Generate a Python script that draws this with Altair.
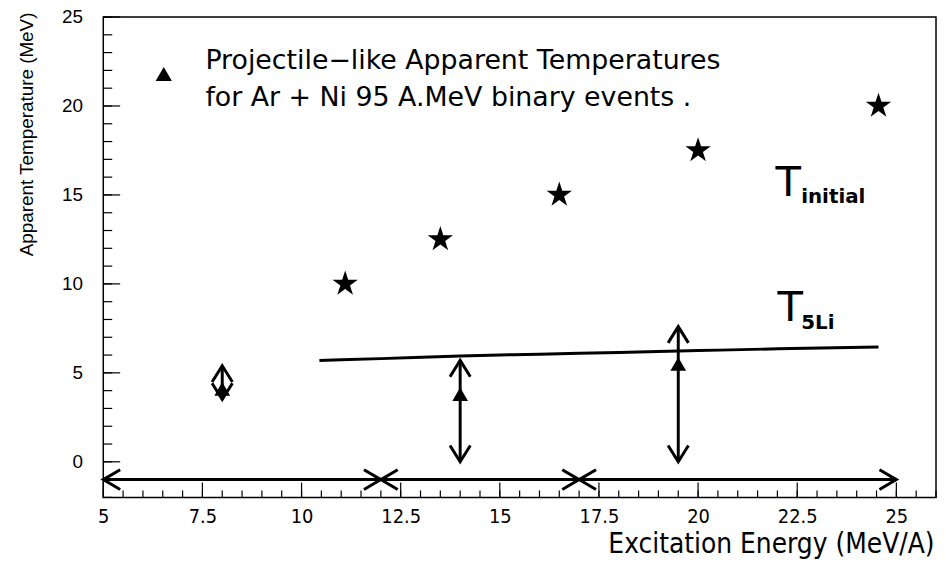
import altair as alt
import pandas as pd

# ---- data ----
star_x = [11.1, 13.5, 16.5, 20.0, 24.55]
star_y = [10.0, 12.5, 15.0, 17.5, 20.0]

tri_x = [8.0, 14.0, 19.5]
tri_y = [4.1, 3.8, 5.5]
err_lo = [3.5, 0.0, 0.0]
err_hi = [5.4, 5.7, 7.6]

t5li_x = [10.45, 12.0, 14.0, 16.0, 18.0, 20.0, 22.0, 24.55]
t5li_y = [5.7, 5.8, 5.95, 6.05, 6.15, 6.25, 6.35, 6.45]

bin_lo = [5.0, 12.0, 17.0]
bin_hi = [12.0, 17.0, 25.0]
bin_level = [-1.0, -1.0, -1.0]

x_ticks_major = [5, 7.5, 10, 12.5, 15, 17.5, 20, 22.5, 25]
x_ticks_minor = [5 + 0.5 * i for i in range(43)]
y_ticks_major = [0, 5, 10, 15, 20, 25]
y_ticks_minor = list(range(-2, 26))

legend_lines = ["Projectile\u2212like Apparent Temperatures",
                "for Ar + Ni 95 A.MeV binary events ."]

W, H = 839, 484
XD = [5, 26]
YD = [-2, 25]

COND = "DejaVu Sans Condensed, Liberation Sans"

xs = alt.Scale(domain=XD, nice=False, zero=False)
ys = alt.Scale(domain=YD, nice=False, zero=False)

x_axis = alt.Axis(values=x_ticks_major, ticks=False, domain=False, grid=False, format=".1~f",
                  labelFont=COND, labelFontSize=20,
                  labelColor="black", labelPadding=9, labelFlush=False,
                  title="Excitation Energy (MeV/A)", titleFont=COND,
                  titleFontSize=28, titleFontWeight="normal", titleColor="black",
                  titleAlign="right", titleBaseline="alphabetic", titleX=837, titleY=56)
y_axis = alt.Axis(values=y_ticks_major, ticks=False, domain=False, grid=False,
                  labelFont="Liberation Sans", labelFontSize=19, labelColor="black",
                  labelPadding=21, labelFlush=False,
                  title="Apparent Temperature (MeV)", titleFont="Liberation Sans",
                  titleFontSize=19, titleFontWeight="normal", titleColor="black",
                  titleAngle=270, titleAlign="right", titleBaseline="middle",
                  titleX=-77, titleY=-5)

def X(f):
    return alt.X(f, type="quantitative", scale=xs, axis=x_axis)

def Y(f):
    return alt.Y(f, type="quantitative", scale=ys, axis=y_axis)

stars = pd.DataFrame({"x": star_x, "y": star_y})
tris = pd.DataFrame({"x": tri_x, "y": tri_y, "lo": err_lo, "hi": err_hi})
t5 = pd.DataFrame({"x": t5li_x, "y": t5li_y})
bins = pd.DataFrame({"xa": bin_lo, "xb": bin_hi, "y": bin_level})

STAR = ("M 0 -1 L 0.2245 -0.309 L 0.951 -0.309 L 0.363 0.118 L 0.588 0.809 L 0 0.382 "
        "L -0.588 0.809 L -0.363 0.118 L -0.951 -0.309 L -0.2245 -0.309 Z")
HEAD_R = "M -1.7 -1 L 0 0 L -1.7 1"
HEAD_L = "M 1.7 -1 L 0 0 L 1.7 1"
HEAD_U = "M -1 1.6 L 0 0 L 1 1.6"
HEAD_D = "M -1 -1.6 L 0 0 L 1 -1.6"

layers = []

# stars (T initial)
layers.append(alt.Chart(stars).mark_point(shape=STAR, filled=True, color="black",
                                          size=720, opacity=1).encode(x=X("x"), y=Y("y")))

# T5Li line
layers.append(alt.Chart(t5).mark_line(color="black", strokeWidth=3,
                                      interpolate="monotone").encode(x=X("x"), y=Y("y")))

# vertical error arrows
layers.append(alt.Chart(tris).mark_rule(color="black", strokeWidth=3).encode(
    x=X("x"), y=Y("lo"), y2="hi"))
layers.append(alt.Chart(tris).mark_point(shape=HEAD_U, filled=False, color="black",
                                         strokeWidth=3, size=420, opacity=1).encode(x=X("x"), y=Y("hi")))
layers.append(alt.Chart(tris).mark_point(shape=HEAD_D, filled=False, color="black",
                                         strokeWidth=3, size=420, opacity=1).encode(x=X("x"), y=Y("lo")))
layers.append(alt.Chart(tris).mark_point(shape="triangle-up", filled=True, color="black",
                                         size=250, opacity=1).encode(x=X("x"), y=Y("y")))

# horizontal bin arrows
layers.append(alt.Chart(bins).mark_rule(color="black", strokeWidth=3).encode(
    x=X("xa"), x2="xb", y=Y("y")))
layers.append(alt.Chart(bins).mark_point(shape=HEAD_L, filled=False, color="black",
                                         strokeWidth=3, size=400, opacity=1).encode(x=X("xa"), y=Y("y")))
layers.append(alt.Chart(bins).mark_point(shape=HEAD_R, filled=False, color="black",
                                         strokeWidth=3, size=400, opacity=1).encode(x=X("xb"), y=Y("y")))

# inward ticks
ytm = pd.DataFrame({"v": y_ticks_major})
ytn = pd.DataFrame({"v": y_ticks_minor})
xtm = pd.DataFrame({"v": x_ticks_major})
xtn = pd.DataFrame({"v": x_ticks_minor})
layers.append(alt.Chart(ytn).mark_rule(color="black", strokeWidth=1.2).encode(
    y=Y("v"), x=alt.value(0), x2=alt.value(9)))
layers.append(alt.Chart(ytm).mark_rule(color="black", strokeWidth=1.2).encode(
    y=Y("v"), x=alt.value(0), x2=alt.value(17)))
layers.append(alt.Chart(xtn).mark_rule(color="black", strokeWidth=1.2).encode(
    x=X("v"), y=alt.value(H), y2=alt.value(H - 7)))
layers.append(alt.Chart(xtm).mark_rule(color="black", strokeWidth=1.2).encode(
    x=X("v"), y=alt.value(H), y2=alt.value(H - 15)))

# legend / annotations
leg_pt = pd.DataFrame({"x": [6.525], "y": [21.8]})
leg_txt = pd.DataFrame({"x": [7.575, 7.575], "y": [22.5, 20.45], "t": legend_lines})
layers.append(alt.Chart(leg_pt).mark_point(shape="triangle-up", filled=True, color="black",
                                           size=270, opacity=1).encode(x=X("x"), y=Y("y")))
layers.append(alt.Chart(leg_txt).mark_text(align="left", baseline="middle", font="DejaVu Sans",
                                           fontSize=27, color="black").encode(
    x=X("x"), y=Y("y"), text="t:N"))

big_T = pd.DataFrame({"x": [21.95, 22.0], "y": [14.95, 7.9], "t": ["T", "T"]})
subs = pd.DataFrame({"x": [22.6, 22.6], "y": [14.55, 7.45], "t": ["initial", "5Li"]})
layers.append(alt.Chart(big_T).mark_text(align="left", baseline="alphabetic", font="DejaVu Sans",
                                         fontSize=42, color="black").encode(
    x=X("x"), y=Y("y"), text="t:N"))
layers.append(alt.Chart(subs).mark_text(align="left", baseline="alphabetic", font="DejaVu Sans",
                                        fontSize=20, fontWeight="bold", color="black").encode(
    x=X("x"), y=Y("y"), text="t:N"))

chart = alt.layer(*layers).properties(
    width=W, height=H,
    autosize=alt.AutoSizeParams(type="none"),
    padding={"left": 96, "top": 7, "right": 1, "bottom": 62},
    background="white",
).configure_view(stroke="black", strokeWidth=1.5)

chart.save("out.html", embed_options={"renderer": "svg", "actions": False})
